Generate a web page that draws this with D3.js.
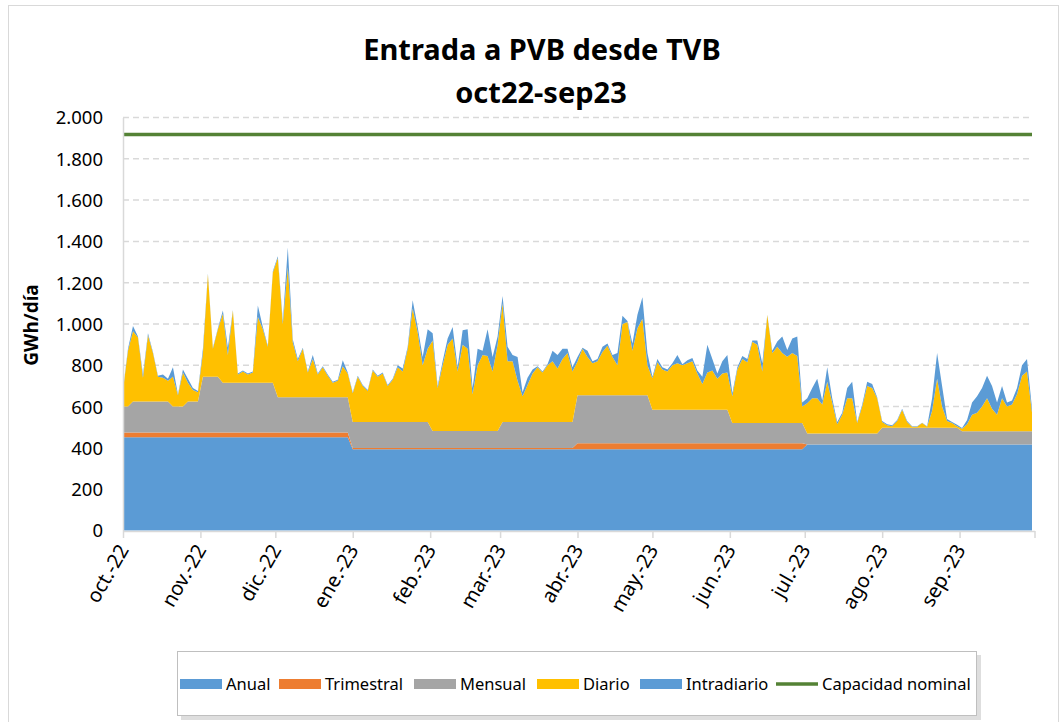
<!DOCTYPE html>
<html lang="es">
<head>
<meta charset="UTF-8">
<title>Entrada a PVB desde TVB</title>
<script src="https://cdn.jsdelivr.net/npm/d3@7"></script>
<style>
  body { margin: 0; background: #fff; }
  text { font-family: "Noto Sans", "Open Sans", sans-serif; }
</style>
</head>
<body>
<script>

// ---- data (GWh/día), one point every 2 days from 1 oct 2022 ----
var startDate = new Date(2022, 9, 1);
var stepDays = 2;

var monthLabels = ["oct.-22", "nov.-22", "dic.-22", "ene.-23", "feb.-23", "mar.-23",
    "abr.-23", "may.-23", "jun.-23", "jul.-23", "ago.-23", "sep.-23"];

// monthly values, index 0 = oct-22
var anualMes = [452, 452, 452, 393, 393, 393, 393, 393, 393, 416, 416, 416];
var trimestralMes = [22, 22, 22, 7, 7, 7, 30, 30, 30, 0, 0, 0];

var mensual = [
    126, 126, 151, 151, 151, 151, 151, 151, 151, 151, 126, 126, 126, 151, 151, 151,       // oct
    271, 271, 271, 271, 241, 241, 241, 241, 241, 241, 241, 241, 241, 241, 241,            // nov
    171, 171, 171, 171, 171, 171, 171, 171, 171, 171, 171, 171, 171, 171, 171,            // dic
    125, 125, 125, 125, 125, 125, 125, 125, 125, 125, 125, 125, 125, 125, 125, 125,       // ene
    82, 82, 82, 82, 82, 82, 82, 82, 82, 82, 82, 82, 82, 82,                               // feb
    125, 125, 125, 125, 125, 125, 125, 125, 125, 125, 125, 125, 125, 125, 125,            // mar
    232, 232, 232, 232, 232, 232, 232, 232, 232, 232, 232, 232, 232, 232, 232,            // abr
    162, 162, 162, 162, 162, 162, 162, 162, 162, 162, 162, 162, 162, 162, 162, 162,       // may
    97, 97, 97, 97, 97, 97, 97, 97, 97, 97, 97, 97, 97, 97, 97,                           // jun
    54, 54, 54, 54, 54, 54, 54, 54, 54, 54, 54, 54, 54, 54, 54,                           // jul
    82, 82, 82, 82, 82, 82, 82, 82, 82, 82, 82, 82, 82, 82, 82, 82,                       // ago
    65, 65, 65, 65, 65, 65, 65, 65, 65, 65, 65, 65, 65, 65, 65                            // sep
];

var diario = [
    80, 270, 340, 310, 115, 320, 235, 120, 115, 100, 145, 55, 165, 90, 55, 45,          // oct
    115, 495, 135, 230, 335, 135, 350, 40, 55, 40, 50, 320, 260, 175, 535,              // nov
    675, 355, 630, 265, 175, 235, 120, 185, 110, 145, 105, 70, 80, 150, 115,            // dic
    140, 220, 175, 150, 250, 220, 235, 175, 205, 265, 245, 355, 550, 435, 275, 355,     // ene
    438, 208, 318, 418, 448, 288, 418, 398, 178, 318, 368, 363, 288, 418,               // feb
    575, 295, 295, 200, 125, 180, 235, 265, 240, 275, 295, 260, 305, 335, 245,          // mar
    163, 225, 185, 155, 165, 210, 240, 185, 145, 345, 355, 215, 325, 370, 145,          // abr
    152, 230, 195, 185, 215, 225, 215, 225, 235, 175, 125, 180, 190, 150, 175, 180,     // may
    130, 260, 310, 295, 394, 380, 250, 523, 340, 370, 340, 322, 340, 325, 80,           // jun
    146, 170, 170, 140, 250, 150, 45, 90, 170, 170, 50, 130, 230, 220, 170,             // jul
    27, 12, 7, 32, 87, 28, 5, 5, 22, 5, 82, 237, 102, 32, 22, 7,                        // ago
    12, 34, 79, 89, 119, 159, 109, 79, 159, 119, 129, 179, 269, 289, 90                 // sep
];

var intradiario = [
    5, 10, 25, 5, 15, 10, 5, 5, 15, 10, 45, 5, 15, 20, 10, 5,                           // oct
    20, 5, 5, 5, 15, 35, 3, 5, 5, 5, 5, 55, 10, 5, 5,                                   // nov
    8, 15, 95, 15, 10, 5, 5, 20, 5, 5, 5, 5, 5, 30, 5,                                  // dic
    5, 5, 5, 5, 5, 5, 5, 5, 5, 10, 15, 10, 40, 25, 40, 95,                              // ene
    35, 10, 20, 30, 55, 20, 70, 95, 30, 80, 20, 130, 70, 40,                            // feb
    35, 70, 30, 115, 20, 35, 20, 5, 5, 5, 50, 65, 50, 20, 20,                           // mar
    22, 5, 30, 10, 10, 25, 10, 10, 60, 40, 5, 35, 65, 105, 60,                          // abr
    8, 15, 10, 10, 10, 40, 5, 15, 15, 15, 35, 135, 55, 25, 60, 85,                      // may
    15, 10, 15, 15, 6, 20, 40, 2, 10, 25, 80, 32, 70, 95, 20,                           // jun
    25, 50, 95, 20, 70, 20, 10, 10, 50, 80, 5, 10, 20, 20, 5,                           // jul
    5, 5, 5, 5, 5, 4, 2, 2, 2, 2, 60, 125, 100, 10, 5, 7,                               // ago
    3, 20, 60, 80, 90, 110, 110, 60, 60, 20, 20, 30, 50, 60, 20                         // sep
];

var capacidadNominal = 1918;

var yTicks = [0, 200, 400, 600, 800, 1000, 1200, 1400, 1600, 1800, 2000];

var series = [
    {key: "anual", name: "Anual", color: "#5B9BD5"},
    {key: "trimestral", name: "Trimestral", color: "#ED7D31"},
    {key: "mensual", name: "Mensual", color: "#A5A5A5"},
    {key: "diario", name: "Diario", color: "#FFC000"},
    {key: "intradiario", name: "Intradiario", color: "#5B9BD5"}
];
var capColor = "#548235";

// ---- build table ----
var monthOf = function (d) {
    return (d.getFullYear() - 2022) * 12 + d.getMonth() - 9;
};
var table = diario.map(function (v, i) {
    var date = d3.timeDay.offset(startDate, i * stepDays);
    var m = monthOf(date);
    return {
        date: date,
        anual: anualMes[m],
        trimestral: trimestralMes[m],
        mensual: mensual[i],
        diario: v,
        intradiario: intradiario[i],
        capacidad: capacidadNominal
    };
});

// ---- layout ----
var width = 1063;
var height = 722;

var svg = d3.select("body").append("svg")
    .attr("width", width)
    .attr("height", height);

// chart frame
svg.append("rect")
    .attr("x", 8.5).attr("y", 5.5)
    .attr("width", 1050).attr("height", 730)
    .attr("fill", "none")
    .attr("stroke", "#D9D9D9");

var monthDates = d3.range(13).map(function (i) {
    return new Date(2022, 9 + i, 1);
});

var xScale = d3.scaleTime()
    .domain([monthDates[0], monthDates[12]])
    .range([123, 1034.5]);

var yScale = d3.scaleLinear()
    .domain([0, 2000])
    .range([530.5, 117.5]);

// grid
svg.append("g")
    .selectAll("line")
    .data(yTicks.slice(1))
    .join("line")
    .attr("x1", 123).attr("x2", 1033)
    .attr("y1", function (d) { return yScale(d); })
    .attr("y2", function (d) { return yScale(d); })
    .attr("stroke", "#D9D9D9")
    .attr("stroke-width", 1.5)
    .attr("stroke-dasharray", "6,4");

// stacked areas
var stack = d3.stack().keys(series.map(function (s) { return s.key; }));
var layers = stack(table);

var area = d3.area()
    .x(function (d) { return xScale(d.data.date); })
    .y0(function (d) { return yScale(d[0]); })
    .y1(function (d) { return yScale(d[1]); });

svg.append("g")
    .selectAll("path")
    .data(layers)
    .join("path")
    .attr("d", area)
    .attr("fill", function (d, i) { return series[i].color; });

// capacity line
var capLine = d3.line()
    .x(function (d) { return xScale(d.date); })
    .y(function (d) { return yScale(d.capacidad); });

svg.append("path")
    .attr("d", capLine(table))
    .attr("fill", "none")
    .attr("stroke", capColor)
    .attr("stroke-width", 3.5);

// axes
var esLocale = d3.formatLocale({decimal: ",", thousands: ".", grouping: [3], currency: ["", " €"]});
var fmt = esLocale.format(",.0f");

var yAxis = d3.axisLeft(yScale)
    .tickValues(yTicks)
    .tickFormat(fmt)
    .tickSize(0)
    .tickPadding(20);

var yGroup = svg.append("g")
    .attr("transform", "translate(123,0)")
    .call(yAxis);
yGroup.select(".domain").attr("stroke", "#D9D9D9").attr("stroke-width", 1.5);
yGroup.selectAll("text")
    .attr("font-size", 18.5)
    .attr("fill", "#000")
    .attr("dy", "0.35em");

var xAxis = d3.axisBottom(xScale)
    .tickValues(monthDates)
    .tickFormat(function (d, i) { return monthLabels[i] || ""; })
    .tickSize(7)
    .tickSizeOuter(0);

var xGroup = svg.append("g")
    .attr("transform", "translate(0,531)")
    .call(xAxis);
xGroup.select(".domain").attr("stroke", "#D9D9D9").attr("stroke-width", 1.5);
xGroup.selectAll(".tick line").attr("stroke", "#D9D9D9").attr("stroke-width", 1.5);
xGroup.selectAll("text")
    .attr("font-size", 20)
    .attr("fill", "#000")
    .attr("text-anchor", "end")
    .attr("x", 0)
    .attr("y", 0)
    .attr("dy", "0.35em")
    .attr("transform", "translate(0,15) rotate(-60)");

// y title
svg.append("text")
    .attr("transform", "translate(38,325) rotate(-90)")
    .attr("text-anchor", "middle")
    .attr("font-size", 19)
    .attr("font-weight", "bold")
    .text("GWh/día");

// title
var title = svg.append("text")
    .attr("x", 542)
    .attr("text-anchor", "middle")
    .attr("font-size", 29)
    .attr("font-weight", "bold");
title.append("tspan").attr("x", 542).attr("y", 60).text("Entrada a PVB desde TVB");
title.append("tspan").attr("x", 541).attr("y", 103).text("oct22-sep23");

// legend
var legend = svg.append("g");
legend.append("rect")
    .attr("x", 181).attr("y", 655)
    .attr("width", 800).attr("height", 65)
    .attr("fill", "#C8C8C8")
    .attr("opacity", 0.6);
legend.append("rect")
    .attr("x", 177.5).attr("y", 651.5)
    .attr("width", 799).attr("height", 64)
    .attr("fill", "#fff")
    .attr("stroke", "#BFBFBF");

var legendItems = series.map(function (s) { return {name: s.name, color: s.color, type: "area"}; })
    .concat([{name: "Capacidad nominal", color: capColor, type: "line"}]);
var legendX = [180, 279, 414, 537, 640, 776];

var items = legend.selectAll("g.item")
    .data(legendItems)
    .join("g")
    .attr("class", "item")
    .attr("transform", function (d, i) { return "translate(" + legendX[i] + ",684)"; });

items.filter(function (d) { return d.type === "area"; })
    .append("rect")
    .attr("x", 0).attr("y", -5)
    .attr("width", 42).attr("height", 10)
    .attr("fill", function (d) { return d.color; });

items.filter(function (d) { return d.type === "line"; })
    .append("line")
    .attr("x1", 0).attr("x2", 42)
    .attr("stroke", function (d) { return d.color; })
    .attr("stroke-width", 3.5);

items.append("text")
    .attr("x", 46)
    .attr("dy", "0.35em")
    .attr("font-size", 16.5)
    .text(function (d) { return d.name; });

</script>
</body>
</html>
